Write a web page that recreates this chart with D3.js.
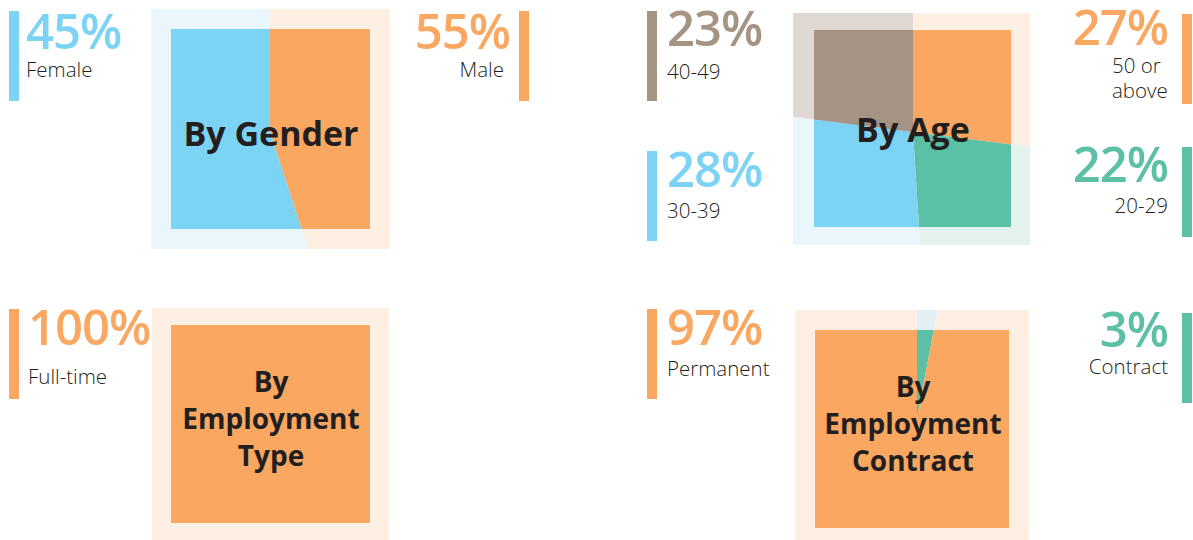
<!DOCTYPE html>
<html>
<head>
<meta charset="utf-8">
<script src="https://cdn.jsdelivr.net/npm/d3@7"></script>
<style>
  body { margin: 0; background: #fff; }
  .pct { font-family: "Open Sans", sans-serif; font-weight: 600; font-size: 49px; letter-spacing: -1px; }
  .lbl { font-family: "Open Sans", sans-serif; font-weight: 300; font-size: 20.5px; fill: #231f20; }
  .title { font-family: "Open Sans", sans-serif; font-weight: 700; fill: #231f20; }
</style>
</head>
<body>
<svg id="chart" width="1193" height="540"></svg>
<script>
// ---- data ----
const genderCats = ['Female', 'Male'];
const genderPct = [45, 55];
// the source graphic draws the gender split with these shares, clockwise from 12 o'clock
const genderSliceCats = ['Male', 'Female'];
const genderSliceShares = [45, 55];

const ageCats = ['40-49', '30-39', '50 or above', '20-29'];
const agePct = [23, 28, 27, 22];
const ageSliceCats = ['50 or above', '20-29', '30-39', '40-49'];

const typeCats = ['Full-time'];
const typePct = [100];

const contractCats = ['Permanent', 'Contract'];
const contractPct = [97, 3];
const contractSliceCats = ['Contract', 'Permanent'];

// ---- colours ----
const colors = {
  'Female': '#7dd3f4', 'Male': '#f9a761',
  '40-49': '#a59384', '30-39': '#7dd3f4', '50 or above': '#f9a761', '20-29': '#5bc0a6',
  'Full-time': '#f9a761',
  'Permanent': '#f9a761', 'Contract': '#5bc0a6'
};
const lightColors = {
  'Female': '#e9f6fc', 'Male': '#fdefe2',
  '40-49': '#e0d8d2', '30-39': '#e9f6fc', '50 or above': '#fdefe2', '20-29': '#e3f2ec',
  'Full-time': '#fdefe2',
  'Permanent': '#fdefe2', 'Contract': '#e2eff4'
};

const svg = d3.select('#chart');
const defs = svg.append('defs');

function lookup(cats, vals) {
  return c => vals[cats.indexOf(c)];
}

function drawPie(cfg) {
  const pie = d3.pie().sort(null).value(d => d.value);
  const arc = d3.arc().innerRadius(0).outerRadius(400);
  const slices = pie(cfg.slices);

  [['outer', cfg.outer, lightColors], ['inner', cfg.inner, colors]].forEach(([name, box, pal]) => {
    const id = `clip-${cfg.id}-${name}`;
    defs.append('clipPath').attr('id', id)
      .append('rect')
      .attr('x', box[0]).attr('y', box[1])
      .attr('width', box[2]).attr('height', box[3]);

    svg.append('g')
      .attr('clip-path', `url(#${id})`)
      .append('g')
      .attr('transform', `translate(${cfg.center[0]},${cfg.center[1]})`)
      .selectAll('path')
      .data(slices)
      .join('path')
      .attr('d', arc)
      .attr('fill', d => pal[d.data.cat]);
  });

  const t = svg.append('text')
    .attr('class', 'title')
    .attr('font-size', cfg.titleSize)
    .attr('text-anchor', 'middle');
  cfg.title.forEach((line, i) => {
    t.append('tspan')
      .attr('x', cfg.titleX)
      .attr('y', cfg.titleY + i * 37)
      .text(line);
  });
}

function drawCallout(c, value) {
  const left = c.side === 'left';
  svg.append('rect')
    .attr('x', c.bar[0]).attr('y', c.bar[1])
    .attr('width', 10).attr('height', c.barH || 90)
    .attr('fill', colors[c.cat]);

  svg.append('text')
    .attr('class', 'pct')
    .attr('x', c.tx).attr('y', c.pctY)
    .attr('text-anchor', left ? 'start' : 'end')
    .attr('fill', colors[c.cat])
    .text(value + '%');

  const lines = c.lines || [c.cat];
  const l = svg.append('text')
    .attr('class', 'lbl')
    .attr('text-anchor', c.lblAnchor || (left ? 'start' : 'end'));
  lines.forEach((line, i) => {
    l.append('tspan')
      .attr('x', c.lx !== undefined ? c.lx : c.tx)
      .attr('y', c.lblY + i * 25)
      .text(line);
  });
}

// ---- gender ----
const gv = lookup(genderSliceCats, genderSliceShares);
drawPie({
  id: 'gender',
  slices: genderSliceCats.map(c => ({ cat: c, value: gv(c) })),
  outer: [151, 9, 239, 240], inner: [171, 29, 199, 200], center: [270, 132],
  title: ['By Gender'], titleX: 271, titleY: 146, titleSize: 34
});
const gp = lookup(genderCats, genderPct);
drawCallout({ cat: 'Female', side: 'left', bar: [9, 11], tx: 26, pctY: 49, lblY: 77 }, gp('Female'));
drawCallout({ cat: 'Male', side: 'right', bar: [519, 11], tx: 510, lx: 504, pctY: 49, lblY: 77 }, gp('Male'));

// ---- age ----
const av = lookup(ageCats, agePct);
drawPie({
  id: 'age',
  slices: ageSliceCats.map(c => ({ cat: c, value: av(c) })),
  outer: [793, 13, 237, 232], inner: [814, 30, 197, 197], center: [913, 132],
  title: ['By Age'], titleX: 913, titleY: 142, titleSize: 34
});
drawCallout({ cat: '40-49', side: 'left', bar: [647, 11], tx: 667, pctY: 46, lblY: 79 }, av('40-49'));
drawCallout({ cat: '30-39', side: 'left', bar: [647, 151], tx: 667, pctY: 187, lblY: 218 }, av('30-39'));
drawCallout({ cat: '50 or above', side: 'right', bar: [1182, 14], tx: 1168, pctY: 45,
  lines: ['50 or', 'above'], lx: 1112, lblAnchor: 'start', lblY: 73 }, av('50 or above'));
drawCallout({ cat: '20-29', side: 'right', bar: [1182, 147], tx: 1168, pctY: 182, lblY: 213 }, av('20-29'));

// ---- employment type ----
const tv = lookup(typeCats, typePct);
drawPie({
  id: 'type',
  slices: typeCats.map(c => ({ cat: c, value: tv(c) })),
  outer: [152, 308, 237, 236], inner: [171, 325, 199, 198], center: [270, 424],
  title: ['By', 'Employment', 'Type'], titleX: 271, titleY: 392, titleSize: 28
});
drawCallout({ cat: 'Full-time', side: 'left', bar: [9, 309], tx: 28, pctY: 345, lblY: 384 }, tv('Full-time'));

// ---- employment contract ----
const cv = lookup(contractCats, contractPct);
drawPie({
  id: 'contract',
  slices: contractSliceCats.map(c => ({ cat: c, value: cv(c) })),
  outer: [795, 310, 234, 234], inner: [815, 330, 194, 198], center: [917, 418],
  title: ['By', 'Employment', 'Contract'], titleX: 913, titleY: 397, titleSize: 28
});
drawCallout({ cat: 'Permanent', side: 'left', bar: [647, 309], tx: 667, pctY: 345, lblY: 376 }, cv('Permanent'));
drawCallout({ cat: 'Contract', side: 'right', bar: [1182, 313], tx: 1168, pctY: 347, lblY: 374 }, cv('Contract'));
</script>
</body>
</html>
